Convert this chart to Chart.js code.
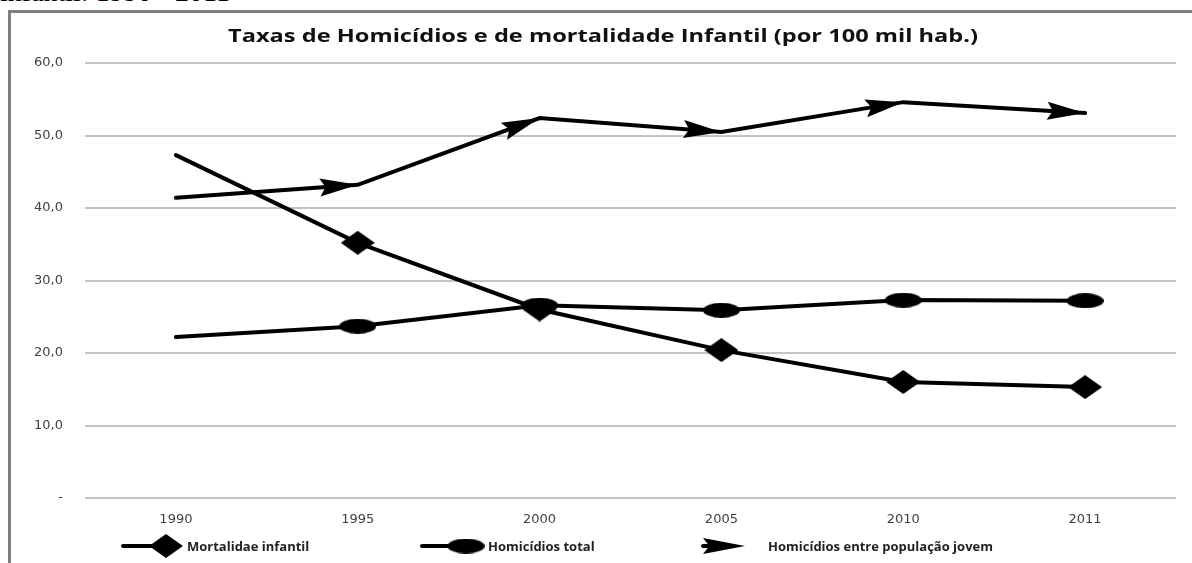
<!DOCTYPE html>
<html>
<head>
<meta charset="utf-8">
<script src="https://cdn.jsdelivr.net/npm/chart.js@4.4.0/dist/chart.umd.min.js"></script>
<style>
  html, body { margin: 0; padding: 0; background: #fff; overflow: hidden; }
  #wrap { position: relative; width: 1192px; height: 563px; }
  #topline { position: absolute; left: 0; top: -22px; font: 28px "Liberation Serif"; line-height: 28px; color: #000; white-space: nowrap; }
  #frame { position: absolute; left: 8px; top: 10px; width: 1184px; height: 553px; box-sizing: border-box;
           border-left: 3px solid #808080; border-top: 3px solid #808080; pointer-events: none; }
  canvas { position: absolute; left: 0; top: 0; }
</style>
</head>
<body>
<div id="wrap">
  <div id="topline">infantil: 1990 - 2011</div>
  <canvas id="chart" width="1192" height="563"></canvas>
  <div id="frame"></div>
</div>
<script>
// data
const anos = ['1990', '1995', '2000', '2005', '2010', '2011'];
const mortalidadeInfantil = [47.3, 35.2, 26.0, 20.4, 16.0, 15.3];
const homicidiosTotal = [22.2, 23.7, 26.6, 25.9, 27.3, 27.2];
const homicidiosJovem = [41.4, 43.2, 52.4, 50.5, 54.6, 53.1];
const yTickLabels = ['-', '10,0', '20,0', '30,0', '40,0', '50,0', '60,0'];
const seriesNames = ['Mortalidae infantil', 'Homicídios total', 'Homicídios entre população jovem'];
const titulo = 'Taxas de Homicídios e de mortalidade Infantil (por 100 mil hab.)';

// marker pictures
function diamondImg(w, h) {
  const c = document.createElement('canvas');
  c.width = w; c.height = h;
  const g = c.getContext('2d');
  g.fillStyle = '#000';
  g.beginPath();
  g.moveTo(w / 2, 0); g.lineTo(w, h / 2); g.lineTo(w / 2, h); g.lineTo(0, h / 2);
  g.closePath(); g.fill();
  return c;
}
function ellipseImg(w, h) {
  const c = document.createElement('canvas');
  c.width = w; c.height = h;
  const g = c.getContext('2d');
  g.fillStyle = '#000';
  g.beginPath();
  g.ellipse(w / 2, h / 2, w / 2, h / 2, 0, 0, Math.PI * 2);
  g.fill();
  return c;
}
const diamond = diamondImg(34, 24);
const ellipse = ellipseImg(37, 15);

function arrowHead(g, x, y, ang, len, half) {
  g.save();
  g.translate(x, y);
  g.rotate(ang);
  g.fillStyle = '#000';
  g.beginPath();
  g.moveTo(0, 0);
  g.lineTo(-len, -half);
  g.lineTo(-len * 0.85, 0);
  g.lineTo(-len, half);
  g.closePath();
  g.fill();
  g.restore();
}

// arrow heads at the end of each segment of the youth series
const arrowPlugin = {
  id: 'arrows',
  afterDatasetsDraw(chart) {
    const g = chart.ctx;
    const pts = chart.getDatasetMeta(2).data;
    for (let i = 1; i < pts.length; i++) {
      const a = pts[i - 1], b = pts[i];
      arrowHead(g, b.x, b.y, Math.atan2(b.y - a.y, b.x - a.x), 38, 9);
    }
  }
};

// title and bottom legend
const legendPos = [
  { x0: 123, mark: 166, text: 187 },
  { x0: 422, mark: 466, text: 488 },
  { x0: 703, mark: 745, text: 768 }
];
const decorPlugin = {
  id: 'decor',
  afterDraw(chart) {
    const g = chart.ctx;
    g.save();
    g.fillStyle = '#111';
    g.font = 'bold 17px "Open Sans"';
    g.textBaseline = 'middle';
    g.textAlign = 'center';
    const w = g.measureText(titulo).width;
    g.translate(603, 37);
    g.scale(750 / w, 1);
    g.fillText(titulo, 0, 0);
    g.restore();

    const ly = 546;
    g.save();
    g.strokeStyle = '#000';
    g.lineWidth = 4;
    g.lineCap = 'round';
    legendPos.forEach((p, i) => {
      if (i < 2) {
        g.beginPath(); g.moveTo(p.x0, ly); g.lineTo(p.mark, ly); g.stroke();
        const img = i === 0 ? diamond : ellipse;
        g.drawImage(img, p.mark - img.width / 2, ly - img.height / 2);
      } else {
        arrowHead(g, p.mark, ly, 0, 42, 8);
        g.beginPath(); g.moveTo(p.x0, ly); g.lineTo(p.mark - 20, ly); g.stroke();
      }
      g.fillStyle = '#222';
      g.font = 'bold 13px "Open Sans"';
      g.textAlign = 'left';
      g.textBaseline = 'middle';
      g.fillText(chart.data.datasets[i].label, p.text, ly + 1);
    });
    g.restore();
  }
};

const noFirst = (c) => c.dataIndex === 0 ? 0 : 12;

const ctx = document.getElementById('chart').getContext('2d');
const chart = new Chart(ctx, {
  type: 'line',
  data: {
    labels: anos,
    datasets: [
      {
        label: seriesNames[0],
        data: mortalidadeInfantil,
        borderColor: '#000',
        borderWidth: 4,
        borderCapStyle: 'round',
        pointStyle: diamond,
        pointRadius: noFirst,
        tension: 0
      },
      {
        label: seriesNames[1],
        data: homicidiosTotal,
        borderColor: '#000',
        borderWidth: 4,
        borderCapStyle: 'round',
        pointStyle: ellipse,
        pointRadius: noFirst,
        tension: 0
      },
      {
        label: seriesNames[2],
        data: homicidiosJovem,
        borderColor: '#000',
        borderWidth: 4,
        borderCapStyle: 'round',
        pointRadius: 0,
        tension: 0
      }
    ]
  },
  options: {
    responsive: false,
    animation: false,
    events: [],
    layout: { padding: { left: 0, right: 15, top: 63, bottom: 35 } },
    plugins: {
      legend: { display: false },
      title: { display: false },
      tooltip: { enabled: false }
    },
    scales: {
      x: {
        offset: true,
        grid: { display: false },
        border: { display: false },
        ticks: { color: '#404040', font: { family: 'DejaVu Sans', size: 13 }, padding: 6, maxRotation: 0 },
        afterFit(s) { s.height = 30; }
      },
      y: {
        min: 0,
        max: 60,
        grid: { color: '#c4c4c4', lineWidth: 2, drawTicks: false },
        border: { display: false },
        ticks: {
          stepSize: 10,
          color: '#404040',
          font: { family: 'DejaVu Sans', size: 13 },
          padding: 22,
          callback: (v) => yTickLabels[Math.round(v / 10)]
        },
        afterFit(s) { s.width = 85; }
      }
    }
  },
  plugins: [arrowPlugin, decorPlugin]
});
</script>
</body>
</html>
